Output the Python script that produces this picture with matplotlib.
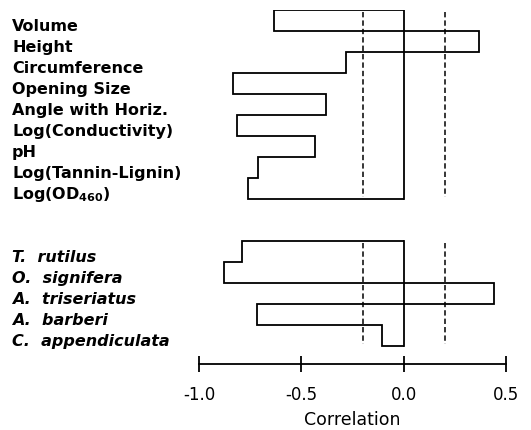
import matplotlib
matplotlib.use("Agg")
import matplotlib.pyplot as plt
import matplotlib.transforms as mtransforms
import numpy as np

plt.rcParams['font.family'] = ['DejaVu Sans']
plt.rcParams['mathtext.default'] = 'regular'

habitat_labels = ["Volume", "Height", "Circumference", "Opening Size",
                  "Angle with Horiz.", "Log(Conductivity)", "pH",
                  "Log(Tannin-Lignin)", r"Log(OD$_{460}$)"]
habitat_values = [-0.634, 0.366, -0.283, -0.834, -0.38, -0.814, -0.434, -0.714, -0.76]

species_labels = ["T.  rutilus", "O.  signifera", "A.  triseriatus",
                  "A.  barberi", "C.  appendiculata"]
species_values = [-0.79, -0.878, 0.44, -0.717, -0.104]

sig_level = 0.2
xticks = [-1.0, -0.5, 0.0, 0.5]
xticklabels = ["-1.0", "-0.5", "0.0", "0.5"]

fig = plt.figure(figsize=(5.31, 4.31), dpi=100)
ax = fig.add_axes([199/531, 1 - 365/431, 307/531, (365 - 11)/431])
ax.set_xlim(-1.0, 0.5)
ax.set_ylim(16.86, 0)

lw = 1.3
blend = mtransforms.blended_transform_factory(fig.transFigure, ax.transData)

def draw_group(values, labels, start, italic):
    n = len(values)
    edges = np.arange(start, start + n + 1)
    ax.stairs(values, edges, orientation='horizontal', baseline=0,
              fill=False, color='black', linewidth=lw)
    ax.plot([0, 0], [edges[0], edges[-1]], color='black', linewidth=lw)
    for s in (-sig_level, sig_level):
        ax.plot([s, s], [edges[0] + 0.1, edges[-1] - 0.1], color='black',
                linewidth=1.1, linestyle=(0, (3.5, 2)))
    for i, lab in enumerate(labels):
        ax.text(12/531, start + i + 0.72, lab, transform=blend,
                ha='left', va='center', fontsize=11.5,
                fontstyle='italic' if italic else 'normal',
                fontweight='bold', color='black')

draw_group(habitat_values, habitat_labels, 0, False)
draw_group(species_values, species_labels, 11, True)

for sp in ['top', 'right', 'left']:
    ax.spines[sp].set_visible(False)
ax.spines['bottom'].set_bounds(-1.0, 0.5)
ax.spines['bottom'].set_linewidth(lw)
ax.set_yticks([])
ax.set_xticks(xticks)
ax.set_xticklabels(xticklabels, fontsize=12)
ax.tick_params(axis='x', direction='inout', length=12, width=lw, pad=9)
ax.set_xlabel("Correlation", fontsize=12.5, labelpad=5)

fig.savefig("out.png", dpi=100)
